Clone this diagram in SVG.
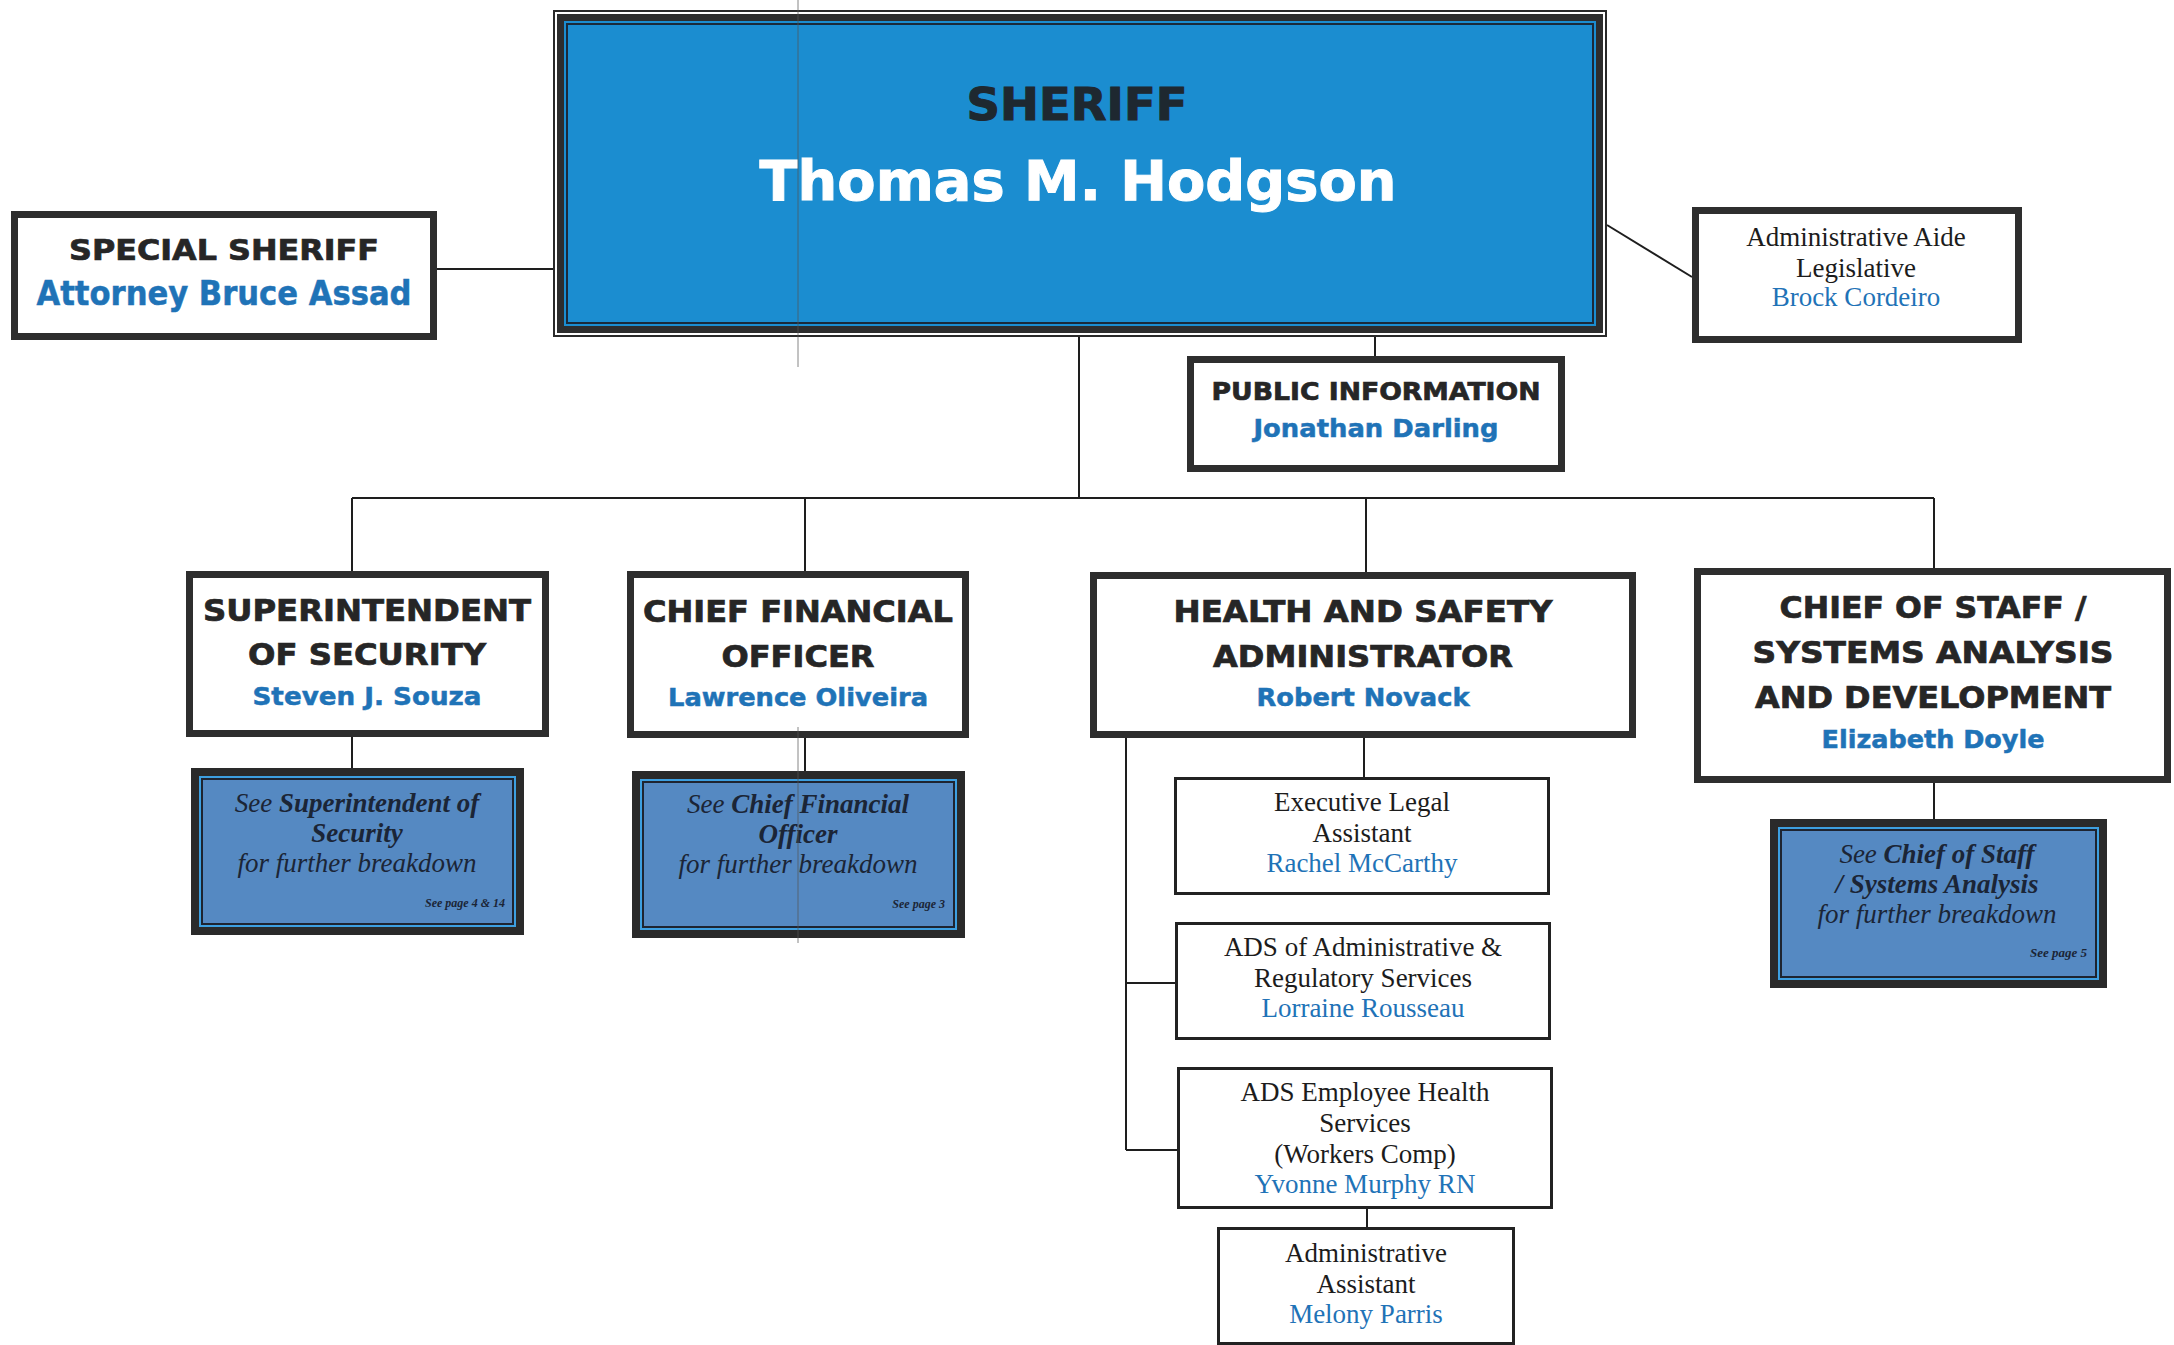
<svg xmlns="http://www.w3.org/2000/svg" width="2174" height="1345" viewBox="0 0 2174 1345">
<style>
.hd{font-family:"DejaVu Sans","Liberation Sans",sans-serif;font-weight:bold;fill:#262626;stroke:#262626;stroke-width:0.7;text-anchor:middle}
.nm{font-family:"DejaVu Sans","Liberation Sans",sans-serif;font-weight:bold;fill:#1f73b7;stroke:#1f73b7;stroke-width:0.5;text-anchor:middle}
.sf{font-family:"Liberation Serif","Times New Roman",serif;font-size:27px;fill:#1c1c1c;text-anchor:middle}
.sfn{fill:#1f73b7}
.see{font-family:"Liberation Serif","Times New Roman",serif;font-style:italic;font-size:27px;fill:#1b2536;text-anchor:middle}
.pg{font-family:"Liberation Serif","Times New Roman",serif;font-style:italic;font-weight:bold;font-size:12px;fill:#1b2536;text-anchor:end}
.b{font-weight:bold}
.box{fill:#ffffff;stroke:#2e2e2e;stroke-width:7}
.sbox{fill:#ffffff;stroke:#222222;stroke-width:3}
.band{fill:#3d9fe0;stroke:#2a2a2a;stroke-width:8}
.inner{fill:#5589c2;stroke:#1e2430;stroke-width:2}
.conn path{stroke:#1e1e1e;stroke-width:2;fill:none}
.art{stroke:#555;stroke-width:1;opacity:0.7}
</style>
<rect width="2174" height="1345" fill="#ffffff"/>

<g class="conn" id="connectors">
<path d="M437,269 H553"/>
<path d="M1607,225 L1692,277"/>
<path d="M1375,337 V356"/>
<path d="M1079,337 V498"/>
<path d="M352,498 H1934"/>
<path d="M352,498 V571"/>
<path d="M805,498 V571"/>
<path d="M1366,498 V572"/>
<path d="M1934,498 V568"/>
<path d="M352,737 V768"/>
<path d="M805,738 V771"/>
<path d="M1364,738 V777"/>
<path d="M1126,738 V1150"/>
<path d="M1126,983 H1175"/>
<path d="M1126,1150 H1177"/>
<path d="M1367,1209 V1227"/>
<path d="M1934,783 V819"/>
</g>

<g id="sheriff">
<rect x="554" y="11" width="1052" height="325" fill="#ffffff" stroke="#2a2a2a" stroke-width="2"/>
<rect x="560.5" y="17.5" width="1039" height="312" fill="#1b8dd0" stroke="#2d2d2d" stroke-width="7"/>
<rect x="567" y="24" width="1026" height="299" fill="none" stroke="#1a2a3a" stroke-width="2"/>
<text class="hd" x="1077" y="120" font-size="44" textLength="221" lengthAdjust="spacingAndGlyphs" style="fill:#1e2830;stroke:#1e2830;stroke-width:1">SHERIFF</text>
<text class="hd" x="1078" y="200" font-size="56" textLength="637" lengthAdjust="spacingAndGlyphs" style="fill:#ffffff;stroke:#ffffff;stroke-width:1">Thomas M. Hodgson</text>
</g>

<g id="special-sheriff">
<rect class="box" x="14.5" y="214.5" width="419" height="122"/>
<text class="hd" x="224" y="260" font-size="29" textLength="310" lengthAdjust="spacingAndGlyphs">SPECIAL SHERIFF</text>
<text class="nm" x="224" y="305" font-size="33" textLength="375" lengthAdjust="spacingAndGlyphs">Attorney Bruce Assad</text>
</g>

<g id="admin-aide">
<rect class="box" x="1695.5" y="210.5" width="323" height="129"/>
<text class="sf" x="1856" y="246" font-size="26">Administrative Aide</text>
<text class="sf" x="1856" y="277" font-size="26">Legislative</text>
<text class="sf sfn" x="1856" y="306" font-size="26">Brock Cordeiro</text>
</g>

<g id="public-information">
<rect class="box" x="1190.5" y="359.5" width="371" height="109"/>
<text class="hd" x="1376" y="400" font-size="25" textLength="329" lengthAdjust="spacingAndGlyphs">PUBLIC INFORMATION</text>
<text class="nm" x="1376" y="437" font-size="25" textLength="245" lengthAdjust="spacingAndGlyphs">Jonathan Darling</text>
</g>

<g id="superintendent">
<rect class="box" x="189.5" y="574.5" width="356" height="159"/>
<text class="hd" x="367" y="621" font-size="30" textLength="328" lengthAdjust="spacingAndGlyphs">SUPERINTENDENT</text>
<text class="hd" x="367" y="665" font-size="30" textLength="238" lengthAdjust="spacingAndGlyphs">OF SECURITY</text>
<text class="nm" x="367" y="705" font-size="24" textLength="229" lengthAdjust="spacingAndGlyphs">Steven J. Souza</text>
</g>

<g id="cfo">
<rect class="box" x="630.5" y="574.5" width="335" height="160"/>
<text class="hd" x="798" y="622" font-size="30" textLength="310" lengthAdjust="spacingAndGlyphs">CHIEF FINANCIAL</text>
<text class="hd" x="798" y="667" font-size="30" textLength="153" lengthAdjust="spacingAndGlyphs">OFFICER</text>
<text class="nm" x="798" y="706" font-size="24" textLength="260" lengthAdjust="spacingAndGlyphs">Lawrence Oliveira</text>
</g>

<g id="health-safety">
<rect class="box" x="1093.5" y="575.5" width="539" height="159"/>
<text class="hd" x="1363" y="622" font-size="30" textLength="379" lengthAdjust="spacingAndGlyphs">HEALTH AND SAFETY</text>
<text class="hd" x="1363" y="667" font-size="30" textLength="300" lengthAdjust="spacingAndGlyphs">ADMINISTRATOR</text>
<text class="nm" x="1363" y="706" font-size="24" textLength="213" lengthAdjust="spacingAndGlyphs">Robert Novack</text>
</g>

<g id="chief-of-staff">
<rect class="box" x="1697.5" y="571.5" width="470" height="208"/>
<text class="hd" x="1933" y="618" font-size="30" textLength="307" lengthAdjust="spacingAndGlyphs">CHIEF OF STAFF /</text>
<text class="hd" x="1933" y="663" font-size="30" textLength="361" lengthAdjust="spacingAndGlyphs">SYSTEMS ANALYSIS</text>
<text class="hd" x="1933" y="708" font-size="30" textLength="356" lengthAdjust="spacingAndGlyphs">AND DEVELOPMENT</text>
<text class="nm" x="1933" y="748" font-size="24" textLength="223" lengthAdjust="spacingAndGlyphs">Elizabeth Doyle</text>
</g>

<g id="see-superintendent">
<rect class="band" x="195" y="772" width="325" height="159"/>
<rect class="inner" x="202" y="779" width="311" height="145"/>
<text class="see" x="357" y="812"><tspan>See </tspan><tspan class="b">Superintendent of</tspan></text>
<text class="see b" x="357" y="842">Security</text>
<text class="see" x="357" y="872">for further breakdown</text>
<text class="pg" x="505" y="907">See page 4 &amp; 14</text>
</g>

<g id="see-cfo">
<rect class="band" x="636" y="775" width="325" height="159"/>
<rect class="inner" x="643" y="782" width="311" height="145"/>
<text class="see" x="798" y="813"><tspan>See </tspan><tspan class="b">Chief Financial</tspan></text>
<text class="see b" x="798" y="843">Officer</text>
<text class="see" x="798" y="873">for further breakdown</text>
<text class="pg" x="945" y="908">See page 3</text>
</g>

<g id="see-chief-of-staff">
<rect class="band" x="1774" y="823" width="329" height="161"/>
<rect class="inner" x="1781" y="830" width="315" height="147"/>
<text class="see" x="1937" y="863"><tspan>See </tspan><tspan class="b">Chief of Staff</tspan></text>
<text class="see b" x="1937" y="893">/ Systems Analysis</text>
<text class="see" x="1937" y="923">for further breakdown</text>
<text class="pg" x="2087" y="957" style="font-size:13px">See page  5</text>
</g>

<g id="executive-legal-assistant">
<rect class="sbox" x="1175.5" y="778.5" width="373" height="115"/>
<text class="sf" x="1362" y="811">Executive Legal</text>
<text class="sf" x="1362" y="842">Assistant</text>
<text class="sf sfn" x="1362" y="872">Rachel McCarthy</text>
</g>

<g id="ads-administrative">
<rect class="sbox" x="1176.5" y="923.5" width="373" height="115"/>
<text class="sf" x="1363" y="956">ADS of Administrative &amp;</text>
<text class="sf" x="1363" y="987">Regulatory Services</text>
<text class="sf sfn" x="1363" y="1017">Lorraine Rousseau</text>
</g>

<g id="ads-employee-health">
<rect class="sbox" x="1178.5" y="1068.5" width="373" height="139"/>
<text class="sf" x="1365" y="1101">ADS Employee Health</text>
<text class="sf" x="1365" y="1132">Services</text>
<text class="sf" x="1365" y="1163">(Workers Comp)</text>
<text class="sf sfn" x="1365" y="1193">Yvonne Murphy RN</text>
</g>

<g id="administrative-assistant">
<rect class="sbox" x="1218.5" y="1228.5" width="295" height="115"/>
<text class="sf" x="1366" y="1262">Administrative</text>
<text class="sf" x="1366" y="1293">Assistant</text>
<text class="sf sfn" x="1366" y="1323">Melony Parris</text>
</g>

<g id="scan-lines">
<line class="art" x1="798" y1="0" x2="798" y2="367"/>
<line class="art" x1="798" y1="727" x2="798" y2="943"/>
</g>
</svg>
